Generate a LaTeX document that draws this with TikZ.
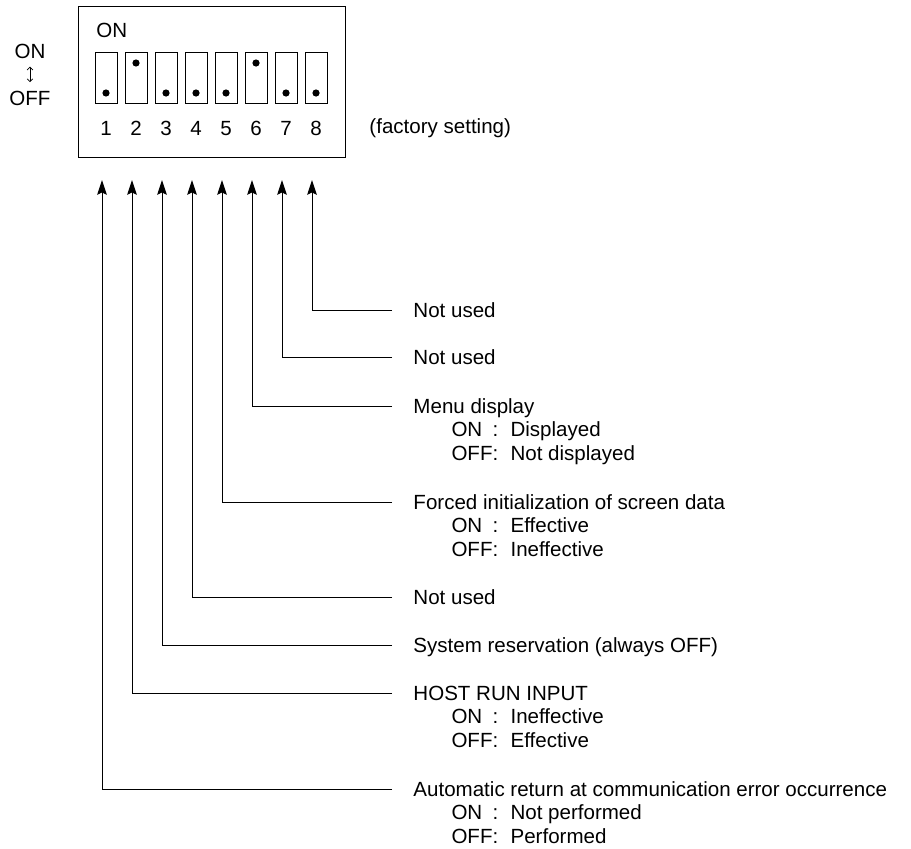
\documentclass[tikz,border=0pt]{standalone}
\usepackage{fontspec}
\setmainfont{Liberation Sans}
\usetikzlibrary{arrows.meta,positioning}

% title line plus ON/OFF meanings
\newcommand{\setting}[3]{\begin{tabular}[t]{@{}p{0.95cm}@{}l@{:\hspace{0.6em}}l@{}}\multicolumn{3}{@{}l@{}}{#1}\\ & ON & #2\\ & OFF & #3\end{tabular}}

\begin{document}
\begin{tikzpicture}[x=0.025cm, y=-0.025cm, line width=0.7pt,
    font=\fontsize{14.6}{17}\selectfont,
    sw/.style={rectangle, draw, minimum width=0.55cm, minimum height=1.275cm, inner sep=0pt},
    knob/.style={circle, fill, inner sep=0pt, minimum size=0.18cm},
    lbl/.style={inner sep=0pt, anchor=base west},
    arr/.style={-{Stealth[length=0.37cm, width=0.24cm, inset=0.06cm]}}
]
\useasboundingbox (0,0) rectangle (911,848);
% switch block
\node[draw, minimum width=6.65cm, minimum height=3.75cm, inner sep=0pt] (dip) at (212,82) {};
\node[lbl] (on) at (96,37) {ON};
\foreach \i/\s in {1/93,2/63,3/93,4/93,5/93,6/63,7/93,8/93} {
  \node[sw] (sw\i) at ({106+30*(\i-1)},77.5) {};
  \node[knob] (kn\i) at ({106+30*(\i-1)},\s) {};
  \node[lbl, anchor=base] (no\i) at ({106+30*(\i-1)},135) {\i};
}
\node[lbl, anchor=base] (lon) at (30,58) {ON};
\node[lbl, anchor=base] (loff) at (30,105) {OFF};
\draw[{Straight Barb[length=2pt]}-{Straight Barb[length=2pt]}, line width=0.5pt, shorten <=0.2cm, shorten >=0.2cm] (lon) -- (loff);
\node[lbl] (fac) at (369,133) {(factory setting)};
% descriptions
\node[lbl] (txt8) at (413,317) {Not used};
\node[lbl] (txt7) at (413,364) {Not used};
\node[lbl] (txt6) at (413,413) {\setting{Menu display}{Displayed}{Not displayed}};
\node[lbl] (txt5) at (413,509) {\setting{Forced initialization of screen data}{Effective}{Ineffective}};
\node[lbl] (txt4) at (413,604) {Not used};
\node[lbl] (txt3) at (413,652) {System reservation (always OFF)};
\node[lbl] (txt2) at (413,700) {\setting{HOST RUN INPUT}{Ineffective}{Effective}};
\node[lbl] (txt1) at (413,796) {\setting{Automatic return at communication error occurrence}{Not performed}{Performed}};
% leaders
\foreach \i in {1,...,8} {
  \coordinate (tip\i) at ({102+30*(\i-1)},180);
  \draw[arr] ([xshift=-0.525cm, yshift=0.175cm]txt\i.base west) -| (tip\i);
}
\end{tikzpicture}
\end{document}
